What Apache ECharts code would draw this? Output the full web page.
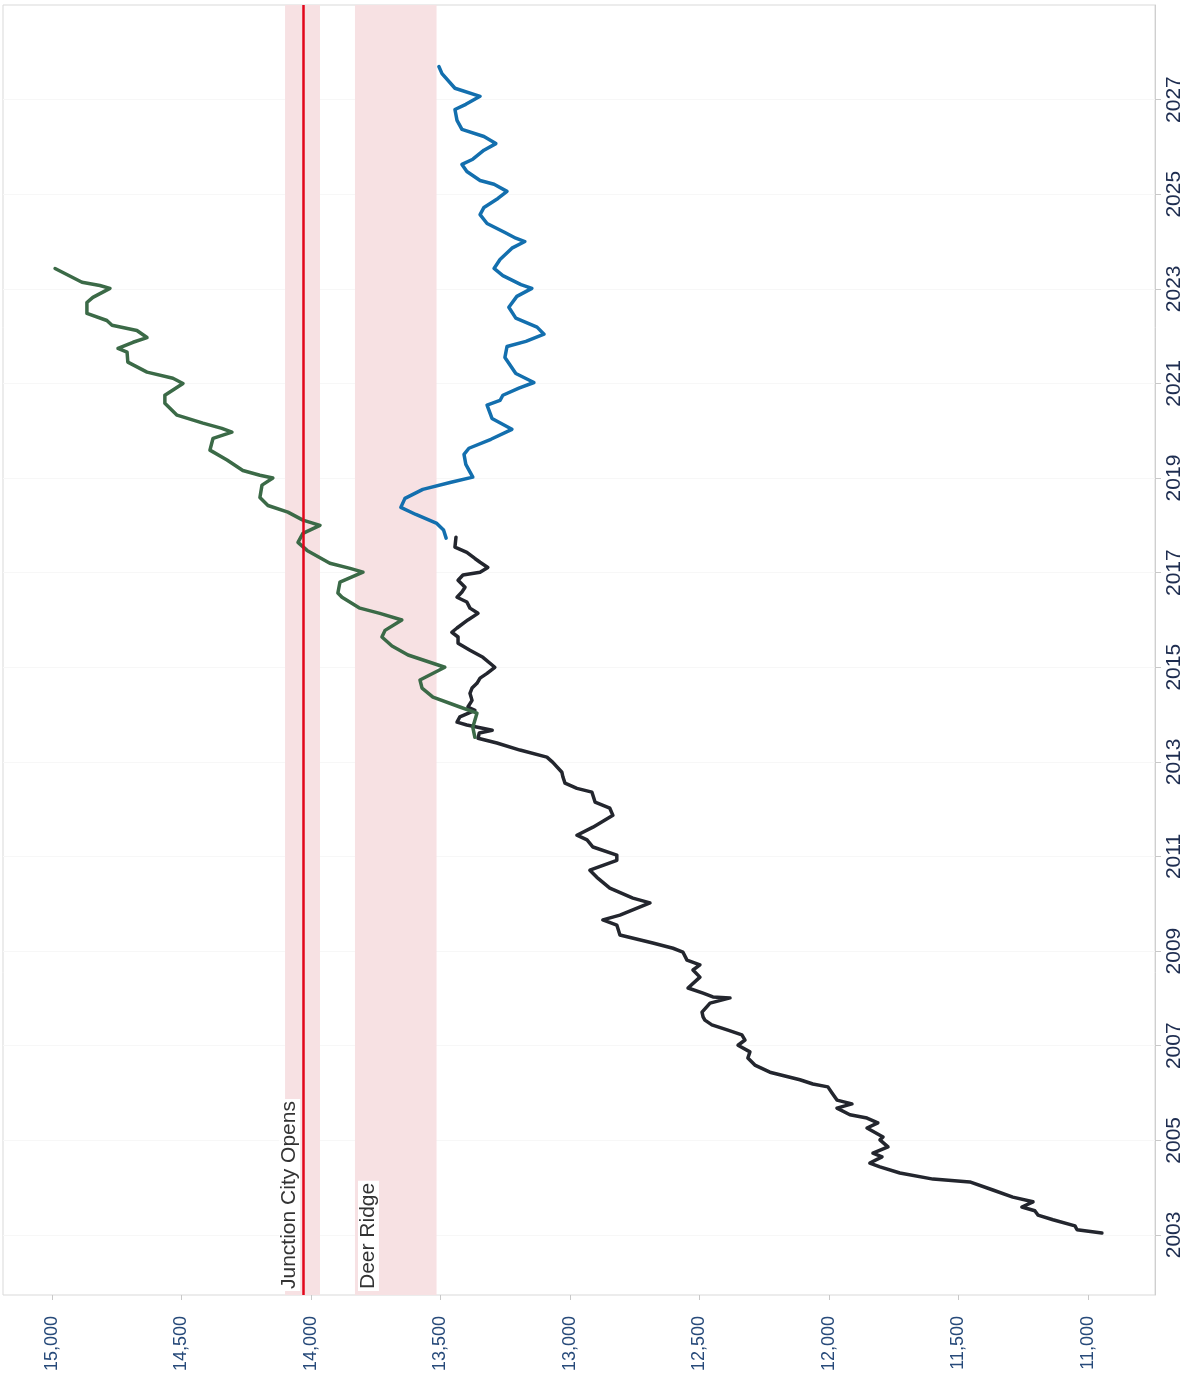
<!DOCTYPE html>
<html>
<head>
<meta charset="utf-8">
<title>Enrollment projection</title>
<script src="https://cdn.jsdelivr.net/npm/echarts@6.0.0/dist/echarts.min.js"></script>
<style>
  html, body { margin: 0; padding: 0; background: #fff; }
  #chart { width: 1196px; height: 1381px; }
</style>
</head>
<body>
<div id="chart"></div>
<script>
// [year, value]
const actualHistory = [
  [2003.04, 10946], [2003.11, 11042], [2003.19, 11050], [2003.32, 11135], [2003.42, 11193],
  [2003.51, 11205], [2003.59, 11255], [2003.70, 11212], [2003.80, 11290], [2003.95, 11367],
  [2004.12, 11456], [2004.18, 11598], [2004.31, 11726], [2004.44, 11803], [2004.52, 11842],
  [2004.65, 11795], [2004.73, 11830], [2004.86, 11772], [2005.01, 11803], [2005.07, 11791],
  [2005.26, 11853], [2005.37, 11811], [2005.47, 11853], [2005.54, 11919], [2005.68, 11969],
  [2005.77, 11911], [2005.85, 11969], [2006.00, 11988], [2006.13, 12004], [2006.19, 12062],
  [2006.28, 12112], [2006.44, 12228], [2006.59, 12286], [2006.74, 12313], [2006.87, 12305],
  [2007.01, 12351], [2007.12, 12324], [2007.23, 12336], [2007.33, 12390], [2007.44, 12452],
  [2007.54, 12479], [2007.61, 12486], [2007.71, 12490], [2007.90, 12459], [2008.01, 12382],
  [2008.03, 12448], [2008.11, 12486], [2008.22, 12544], [2008.45, 12498], [2008.60, 12525],
  [2008.71, 12498], [2008.81, 12548], [2008.98, 12564], [2009.06, 12602], [2009.17, 12680],
  [2009.34, 12807], [2009.55, 12819], [2009.66, 12873], [2009.76, 12807], [2010.02, 12691],
  [2010.12, 12757], [2010.33, 12846], [2010.56, 12896], [2010.71, 12923], [2010.92, 12819],
  [2011.03, 12819], [2011.20, 12911], [2011.35, 12934], [2011.45, 12973], [2011.62, 12911],
  [2011.87, 12834], [2012.02, 12846], [2012.15, 12903], [2012.36, 12915], [2012.44, 12973],
  [2012.55, 13019], [2012.68, 13027], [2012.78, 13031], [2012.99, 13066], [2013.10, 13089],
  [2013.25, 13193], [2013.40, 13282], [2013.50, 13355], [2013.61, 13350], [2013.67, 13300],
  [2013.78, 13398], [2013.84, 13436], [2013.95, 13425], [2014.09, 13367], [2014.16, 13394],
  [2014.30, 13378], [2014.45, 13386], [2014.56, 13378], [2014.66, 13359], [2014.77, 13347],
  [2014.87, 13320], [2015.00, 13290], [2015.21, 13336], [2015.36, 13386], [2015.51, 13432],
  [2015.64, 13432], [2015.74, 13456], [2015.83, 13436], [2016.00, 13394], [2016.14, 13355],
  [2016.25, 13386], [2016.38, 13398], [2016.48, 13436], [2016.59, 13417], [2016.69, 13405],
  [2016.84, 13432], [2016.95, 13413], [2017.01, 13347], [2017.11, 13317], [2017.22, 13347],
  [2017.30, 13367], [2017.43, 13398], [2017.54, 13444], [2017.75, 13440]
]

const highProjection = [
  [2013.52, 13367], [2013.73, 13375], [2014.03, 13359], [2014.16, 13425], [2014.37, 13529],
  [2014.56, 13571], [2014.73, 13579], [2015.00, 13483], [2015.26, 13625], [2015.45, 13687],
  [2015.64, 13726], [2015.78, 13714], [2016.00, 13649], [2016.14, 13734], [2016.25, 13811],
  [2016.48, 13880], [2016.57, 13896], [2016.80, 13888], [2017.01, 13799], [2017.09, 13849],
  [2017.20, 13927], [2017.47, 14015], [2017.64, 14050], [2017.83, 14031], [2018.00, 13965],
  [2018.11, 14031], [2018.28, 14089], [2018.42, 14166], [2018.59, 14197], [2018.85, 14189],
  [2019.00, 14147], [2019.06, 14197], [2019.16, 14263], [2019.38, 14324], [2019.59, 14390],
  [2019.84, 14378], [2019.97, 14305], [2020.05, 14344], [2020.16, 14417], [2020.33, 14517],
  [2020.58, 14564], [2020.75, 14564], [2021.00, 14494], [2021.11, 14533], [2021.24, 14633],
  [2021.45, 14707], [2021.66, 14710], [2021.74, 14745], [2021.87, 14687], [2021.97, 14633],
  [2022.12, 14672], [2022.23, 14768], [2022.33, 14788], [2022.48, 14865], [2022.71, 14865],
  [2022.82, 14842], [2023.01, 14776], [2023.07, 14815], [2023.14, 14884], [2023.43, 14988]
]

const lowProjection = [
  [2017.73, 13478], [2017.90, 13488], [2018.04, 13514], [2018.23, 13595],
  [2018.38, 13653], [2018.57, 13637], [2018.76, 13568], [2018.91, 13459], [2019.02, 13375],
  [2019.29, 13402], [2019.50, 13409], [2019.63, 13390], [2019.82, 13305], [2020.03, 13224],
  [2020.26, 13301], [2020.54, 13320], [2020.64, 13270], [2020.75, 13259], [2020.90, 13197],
  [2021.02, 13139], [2021.21, 13209], [2021.55, 13251], [2021.78, 13243], [2021.89, 13170],
  [2022.04, 13100], [2022.19, 13127], [2022.38, 13209], [2022.61, 13236], [2022.84, 13205],
  [2023.01, 13147], [2023.09, 13189], [2023.28, 13259], [2023.43, 13293], [2023.62, 13270],
  [2023.86, 13224], [2024.00, 13174], [2024.07, 13209], [2024.19, 13251], [2024.38, 13320],
  [2024.57, 13347], [2024.72, 13332], [2024.91, 13278], [2025.06, 13243], [2025.21, 13293],
  [2025.29, 13347], [2025.48, 13398], [2025.63, 13417], [2025.74, 13375], [2025.93, 13332],
  [2026.07, 13286], [2026.22, 13332], [2026.37, 13417], [2026.56, 13436], [2026.79, 13444],
  [2026.90, 13402], [2027.07, 13347], [2027.24, 13444], [2027.55, 13494], [2027.70, 13506]
]

const valueTicks = [11000, 11500, 12000, 12500, 13000, 13500, 14000, 14500, 15000]
const yearTicks = [2003, 2005, 2007, 2009, 2011, 2013, 2015, 2017, 2019, 2021, 2023, 2025, 2027]

const junctionCityBand = [13965, 14100]
const junctionCityLine = 14030
const deerRidgeBand = [13515, 13830]

// 有窄体就用窄体，没有就退回普通字体
function hasFont(name) {
  const ctx = document.createElement('canvas').getContext('2d')
  const sample = '0123456789abcdefg'
  ctx.font = '40px monospace'
  const base = ctx.measureText(sample).width
  ctx.font = '40px "' + name + '", monospace'
  return ctx.measureText(sample).width !== base
}
const narrow = hasFont('Liberation Sans Narrow')
const axisFont = narrow ? '"Liberation Sans Narrow"' : '"Liberation Sans", Arial, sans-serif'
const yearSize = narrow ? 24 : 21
const valueSize = narrow ? 22 : 18

const toXY = (rows) => rows.map((d) => [d[1], d[0]])

const lineSeries = (name, rows, color) => ({
  name: name,
  type: 'line',
  data: toXY(rows),
  showSymbol: false,
  symbol: 'none',
  smooth: false,
  z: 3,
  lineStyle: { color: color, width: 3.5, cap: 'round', join: 'round' }
})

const noteLabel = (text, position) => ({
  show: true,
  formatter: text,
  position: position,
  distance: [4, 3],
  color: '#333333',
  fontFamily: '"Liberation Sans", Arial, sans-serif',
  fontSize: 21,
  backgroundColor: '#ffffff',
  padding: [0, 2, 0, 2]
})

const chart = echarts.init(document.getElementById('chart'), null, { renderer: 'canvas' })

chart.setOption({
  animation: false,
  backgroundColor: '#ffffff',
  grid: {
    left: 3,
    right: 41,
    top: 5,
    bottom: 86,
    show: true,
    borderColor: '#d9d9d9',
    borderWidth: 1,
    outerBoundsMode: 'none'
  },
  xAxis: {
    type: 'value',
    inverse: true,
    min: 10741,
    max: 15189,
    axisLine: { show: false },
    splitLine: { show: false },
    axisTick: { show: true, customValues: valueTicks, length: 5, lineStyle: { color: '#c8c8c8' } },
    axisLabel: {
      customValues: valueTicks,
      rotate: 90,
      margin: 21,
      color: '#274a7a',
      fontFamily: axisFont,
      fontSize: valueSize,
      formatter: (v) => Number(v).toLocaleString('en-US')
    }
  },
  yAxis: {
    type: 'value',
    position: 'right',
    min: 2001.73,
    max: 2029,
    axisLine: { show: true, lineStyle: { color: '#cfcfcf' } },
    axisTick: { show: true, customValues: yearTicks, length: 6, lineStyle: { color: '#c8c8c8' } },
    splitLine: { show: true, lineStyle: { color: '#f7f7f7', width: 1 } },
    axisLabel: {
      customValues: yearTicks,
      rotate: 90,
      margin: 9,
      color: '#1e2d50',
      fontFamily: axisFont,
      fontSize: yearSize,
      formatter: (v) => String(Math.round(v))
    }
  },
  series: [
    {
      name: 'bands',
      type: 'line',
      data: [],
      z: -1,
      silent: true,
      markArea: {
        silent: true,
        itemStyle: { color: '#f7e1e3' },
        data: [
          [{ xAxis: junctionCityBand[1] }, { xAxis: junctionCityBand[0] }],
          [{ xAxis: deerRidgeBand[1] }, { xAxis: deerRidgeBand[0] }]
        ]
      }
    },
    {
      name: 'markers',
      type: 'line',
      data: [],
      z: 1,
      silent: true,
      markLine: {
        silent: true,
        symbol: ['none', 'none'],
        animation: false,
        data: [
          {
            xAxis: junctionCityLine,
            lineStyle: { color: '#e2061b', width: 2.5, type: 'solid' },
            label: noteLabel('Junction City Opens', 'insideStartTop')
          },
          {
            xAxis: deerRidgeBand[1],
            lineStyle: { color: 'rgba(247,225,227,0)', width: 1, type: 'solid' },
            label: noteLabel('Deer Ridge', 'insideStartBottom')
          }
        ]
      }
    },
    lineSeries('Actual', actualHistory, '#23262e'),
    lineSeries('High projection', highProjection, '#3b6a47'),
    lineSeries('Low projection', lowProjection, '#136fae')
  ]
})
</script>
</body>
</html>
